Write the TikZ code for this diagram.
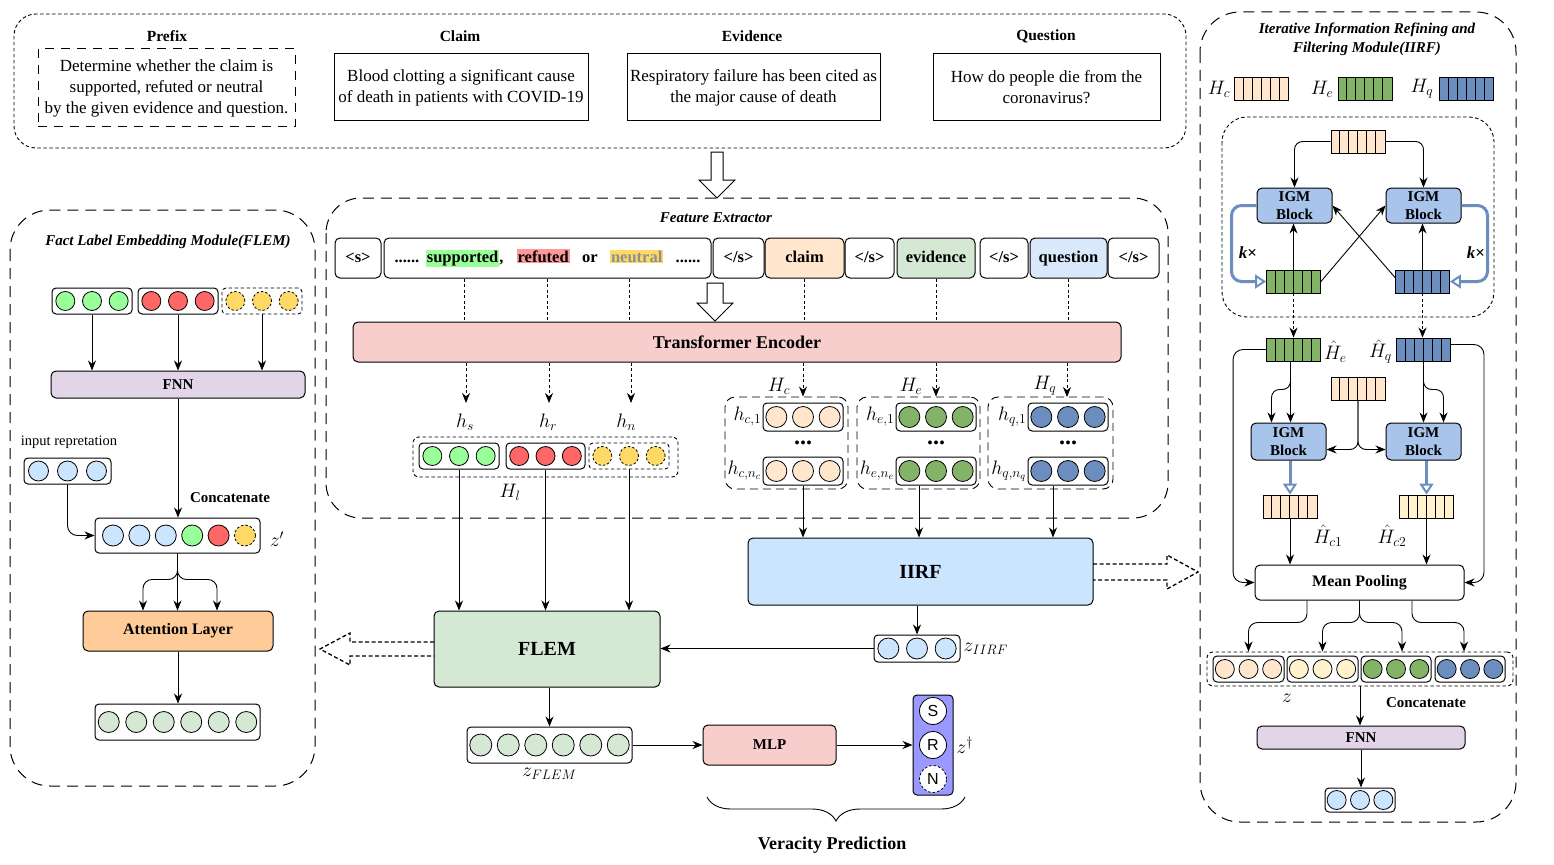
\RequirePackage{fix-cm}
\documentclass[tikz,border=0pt]{standalone}
\usepackage{fontspec}
\setmainfont{Liberation Serif}
\newfontfamily\sfa{Liberation Sans}
\usetikzlibrary{arrows.meta,positioning,calc,decorations.pathreplacing}
\setlength{\fboxsep}{1pt}
\definecolor{peach}{HTML}{FFE6CC}
\definecolor{lgreen}{HTML}{D5E8D4}
\definecolor{lblue}{HTML}{DAE8FC}
\definecolor{cblue}{HTML}{CCE5FF}
\definecolor{pinkc}{HTML}{F8CECC}
\definecolor{purp}{HTML}{E1D5E7}
\definecolor{orng}{HTML}{FFCC99}
\definecolor{cgreen}{HTML}{99FF99}
\definecolor{cred}{HTML}{FF6666}
\definecolor{cyel}{HTML}{FFD966}
\definecolor{hlr}{HTML}{FF9999}
\definecolor{dgreen}{HTML}{82B366}
\definecolor{dblue}{HTML}{6C8EBF}
\definecolor{lyel}{HTML}{FFF2CC}
\definecolor{igmc}{HTML}{A9C4EB}
\definecolor{zdcol}{HTML}{9999FF}
\definecolor{loopc}{HTML}{6C8EBF}
\definecolor{neutgray}{HTML}{8F8F8F}
\newcommand{\mybox}[7][]{\node[#1, minimum width={(#5-#3)*1pt}, minimum height={(#6-#4)*1pt}] (#2) at ({(#3+#5)/2},{(#4+#6)/2}) {#7};}
\newcommand{\crow}[8][]{%
 \mybox[cbox,#1]{#2}{#3}{#4}{#5}{#6}{}%
 \foreach \cI in {1,...,#7}{\node[circ,#8] (#2-\cI) at ({#3+(\cI-0.5)*(#5-#3)/#7},{(#4+#6)/2}) {};}%
}
\newcommand{\mkbar}[4]{%
 \node[draw, fill=#4, line width=0.9pt, minimum width=54pt, minimum height=23pt, inner sep=0pt] (#1) at (#2,#3) {};%
 \foreach \cK in {1,...,5}{\draw[line width=0.9pt] ($(#1.south west)+(\cK*9,0)$) -- ($(#1.north west)+(\cK*9,0)$);}%
}
\tikzset{
 every node/.style={inner sep=0pt},
 body/.style={font=\fontsize{17}{21}\selectfont, align=center},
 hd/.style={font=\fontsize{15.5}{18}\selectfont\bfseries},
 ttl/.style={font=\fontsize{15}{19}\selectfont\bfseries\itshape, align=center},
 ml/.style={font=\fontsize{19.5}{21}\selectfont},
 lb/.style={font=\fontsize{15}{18}\selectfont\bfseries, align=center},
 box/.style={draw, line width=1pt, rounded corners=5pt, align=center},
 sq/.style={draw, line width=1pt, align=center},
 tok/.style={draw, line width=1pt, rounded corners=5pt, font=\fontsize{16.5}{20}\selectfont\bfseries, text height=12pt, text depth=4pt},
 cbox/.style={draw, line width=1pt, rounded corners=4pt},
 circ/.style={draw, circle, line width=0.8pt, minimum size=19pt},
 ydash/.style={dash pattern=on 2.5pt off 2pt},
 igm/.style={draw, line width=1pt, rounded corners=5pt, fill=igmc, align=center, font=\fontsize{15}{18}\selectfont\bfseries},
 arr/.style={line width=0.9pt, -{Stealth[length=10pt,width=8pt]}},
 darr/.style={arr, dash pattern=on 3pt off 2.5pt},
 dl/.style={line width=0.8pt, dash pattern=on 3pt off 2.5pt},
 thk/.style={draw=loopc, line width=3pt, -{Triangle[open, length=11pt, width=14pt, line width=2pt]}},
 hol/.style={line width=1pt, fill=white},
 hold/.style={line width=1.3pt, dash pattern=on 4pt off 2.5pt},
 ldash/.style={line width=1pt, dash pattern=on 11pt off 7pt},
 sdash/.style={line width=0.9pt, dash pattern=on 3.5pt off 2.5pt},
 grp/.style={draw, line width=0.9pt, rounded corners=10pt, dash pattern=on 8pt off 5pt},
 kx/.style={font=\fontsize{17}{18}\selectfont\bfseries\itshape},
}
\begin{document}
\begin{tikzpicture}[x=1pt,y=-1pt]
\useasboundingbox (0,0) rectangle (1554,864);
\fill[white] (0,0) rectangle (1554,864);
% ---------------- top input box
\draw[sdash, rounded corners=22pt] (14,14) rectangle (1186,148);
\node[hd] (hpre) at (167,36) {Prefix};
\node[hd] (hcla) at (460,36) {Claim};
\node[hd] (hevi) at (752,36) {Evidence};
\node[hd] (hque) at (1046,36) {Question};
\mybox[sq, body, dash pattern=on 9pt off 7pt]{pre}{38}{49}{295}{127}{Determine whether the claim is\\supported, refuted or neutral\\by the given evidence and question.}
\mybox[sq, body]{cla}{334}{54}{588}{121}{Blood clotting a significant cause\\of death in patients with COVID-19}
\mybox[sq, body]{evi}{627}{54}{880}{121}{Respiratory failure has been cited as\\the major cause of death}
\mybox[sq, body]{que}{933}{54}{1160}{121}{How do people die from the\\coronavirus?}
\draw[hol] (711,152) -- (723,152) -- (723,180) -- (735,180) -- (717,198) -- (699,180) -- (711,180) -- cycle;
% ---------------- feature extractor
\draw[ldash, rounded corners=35pt] (326,198) rectangle (1168,518);
\node[ttl] (fet) at (716,218) {Feature Extractor};
\mybox[tok]{t1}{335}{238}{381}{278}{<s>}
\mybox[tok]{t2}{384}{238}{711}{278}{......\hspace{0.4em}\colorbox{cgreen}{supported},\hspace{0.8em}\colorbox{hlr}{refuted}\hspace{0.5em} or\hspace{0.5em} \colorbox{cyel}{\textcolor{neutgray}{neutral}}\hspace{0.5em} ......}
\mybox[tok]{t3}{713}{238}{764}{278}{</s>}
\mybox[tok, fill=peach]{t4}{765}{238}{844}{278}{claim}
\mybox[tok]{t5}{845}{238}{894}{278}{</s>}
\mybox[tok, fill=lgreen]{t6}{897}{238}{975}{278}{evidence}
\mybox[tok]{t7}{980}{238}{1028}{278}{</s>}
\mybox[tok, fill=lblue]{t8}{1030}{238}{1107}{278}{question}
\mybox[tok]{t9}{1108}{238}{1159}{278}{</s>}
\mybox[box, fill=pinkc, font=\fontsize{18}{20}\selectfont\bfseries]{tf}{353}{322}{1121}{362}{Transformer Encoder}
\path ([xshift=-83.5pt]t2.south) coordinate (ps1);
\path ([xshift=-0.5pt]t2.south) coordinate (ps2);
\path ([xshift=81.5pt]t2.south) coordinate (ps3);
\foreach \p in {ps1,ps2,ps3,t4.south,t6.south,t8.south}{\draw[dl] (\p) -- (\p |- tf.north);}
\draw[hol] (707,283) -- (723,283) -- (723,303) -- (733,303) -- (715,321) -- (697,303) -- (707,303) -- cycle;
% label vectors
\node[ml] (hs) at (465,422) {$h_s$};
\node[ml] (hr) at (548,422) {$h_r$};
\node[ml] (hn) at (626,422) {$h_n$};
\coordinate (ehs) at (466,403);
\coordinate (ehr) at (549,403);
\coordinate (ehn) at (631,403);
\foreach \p in {ehs,ehr,ehn}{\draw[darr] (tf.south -| \p) -- (\p);}
\mybox[cbox, sdash, rounded corners=6pt]{hl}{413}{437}{678}{477}{}
\crow{hsrow}{419}{443}{499}{469}{3}{fill=cgreen}
\crow{hrrow}{506}{443}{585}{469}{3}{fill=cred}
\crow[sdash]{hnrow}{589}{443}{669}{469}{3}{fill=cyel, ydash}
\node[ml] (hlab) at (510,492) {$H_l$};
% Hc He Hq groups
\mybox[grp]{hcg}{725}{397}{848}{489}{}
\mybox[grp]{heg}{857}{397}{980}{489}{}
\mybox[grp]{hqg}{988}{397}{1113}{489}{}
\crow{hc1}{763}{403}{843}{431}{3}{fill=peach, minimum size=21pt}
\crow{hcn}{763}{457}{843}{485}{3}{fill=peach, minimum size=21pt}
\crow{he1}{896}{403}{976}{431}{3}{fill=dgreen, minimum size=21pt}
\crow{hen}{896}{457}{976}{485}{3}{fill=dgreen, minimum size=21pt}
\crow{hq1}{1028}{403}{1108}{431}{3}{fill=dblue, minimum size=21pt}
\crow{hqn}{1028}{457}{1108}{485}{3}{fill=dblue, minimum size=21pt}
\node[ml, left=1pt of hc1] (lhc1) {$h_{c,1}$};
\node[ml, left=1pt of hcn] (lhcn) {$h_{c,n_c}$};
\node[ml, left=1pt of he1] (lhe1) {$h_{e,1}$};
\node[ml, left=1pt of hen] (lhen) {$h_{e,n_e}$};
\node[ml, left=1pt of hq1] (lhq1) {$h_{q,1}$};
\node[ml, left=1pt of hqn] (lhqn) {$h_{q,n_q}$};
\node[font=\fontsize{24}{24}\selectfont\bfseries] (dc) at (803,443) {...};
\node[font=\fontsize{24}{24}\selectfont\bfseries] (de) at (936,443) {...};
\node[font=\fontsize{24}{24}\selectfont\bfseries] (dq) at (1068,443) {...};
\node[ml] (lHc) at (779,386) {$H_c$};
\node[ml] (lHe) at (911,386) {$H_e$};
\node[ml] (lHq) at (1045,386) {$H_q$};
\draw[darr] (tf.south -| hc1.north) -- (hcg.north -| hc1.north);
\draw[darr] (tf.south -| he1.north) -- (heg.north -| he1.north);
\coordinate (eq1) at (1067,397);
\draw[darr] (tf.south -| eq1) -- (eq1);
% IIRF / FLEM main
\mybox[box, fill=cblue, font=\fontsize{20}{22}\selectfont\bfseries]{iirf}{748}{538}{1093}{605}{IIRF}
\path (hcn.south) coordinate (dc1);
\path ([xshift=-17pt]hen.south) coordinate (dc2);
\path ([xshift=-15pt]hqn.south) coordinate (dc3);
\foreach \p in {dc1,dc2,dc3}{\draw[arr] (\p) -- (\p |- iirf.north);}
\draw[hold] (1093,564) -- (1167,564) -- (1167,555) -- (1198,572) -- (1167,589) -- (1167,580) -- (1093,580);
\crow{ziirf}{874}{635}{960}{662}{3}{fill=cblue, minimum size=21pt}
\node[ml, right=3pt of ziirf] (lziirf) {$z_{IIRF}$};
\draw[arr] (ziirf.north |- iirf.south) -- (ziirf.north);
\mybox[box, fill=lgreen, font=\fontsize{20}{22}\selectfont\bfseries]{flem}{434}{611}{660}{687}{FLEM}
\draw[arr] (ziirf.west) -- (ziirf.west -| flem.east);
\foreach \p in {hsrow,hrrow,hnrow}{\draw[arr] (\p.south) -- (\p.south |- flem.north);}
\draw[hold] (434,642) -- (350,642) -- (350,633) -- (320,649) -- (350,665) -- (350,656) -- (434,656);
\crow{zflem}{467}{727}{632}{763}{6}{fill=lgreen, minimum size=22pt}
\node[ml, below=4pt of zflem] (lzflem) {$z_{FLEM}$};
\draw[arr] (zflem.north |- flem.south) -- (zflem.north);
\mybox[box, fill=pinkc, font=\fontsize{15}{18}\selectfont\bfseries]{mlp}{703}{725}{836}{765}{MLP}
\draw[arr] (zflem.east) -- (mlp.west);
\mybox[cbox, fill=zdcol]{zd}{913}{695}{953}{795}{}
\node[circ, fill=white, minimum size=27pt, font=\sfa\fontsize{16}{16}\selectfont] (zs) at (933,711) {S};
\node[circ, fill=white, minimum size=27pt, font=\sfa\fontsize{16}{16}\selectfont] (zr) at (933,745) {R};
\node[circ, fill=white, minimum size=27pt, ydash, font=\sfa\fontsize{16}{16}\selectfont] (zn) at (933,779) {N};
\node[ml, right=3pt of zd] (lzd) {$z^{\dagger}$};
\draw[arr] (mlp.east) -- (mlp.east -| zd.west);
\draw[line width=0.9pt, decorate, decoration={brace, mirror, amplitude=24pt}] (707,797) -- (965,797);
\node[font=\fontsize{18}{20}\selectfont\bfseries] (vp) at (832,845) {Veracity Prediction};
% ---------------- FLEM module (left)
\draw[ldash, rounded corners=40pt] (10,210) rectangle (315,786);
\node[ttl] (flt) at (168,242) {Fact Label Embedding Module(FLEM)};
\crow{fg}{52}{288}{132}{314}{3}{fill=cgreen}
\crow{fr}{138}{288}{218}{314}{3}{fill=cred}
\crow[sdash]{fy}{222}{288}{302}{314}{3}{fill=cyel, ydash}
\mybox[box, fill=purp, font=\fontsize{15}{18}\selectfont\bfseries]{fnn}{51}{371}{305}{398}{FNN}
\foreach \p in {fg,fr,fy}{\draw[arr] (\p.south) -- (\p.south |- fnn.north);}
\node[font=\fontsize{14.5}{17}\selectfont] (inrl) at (69,442) {input repretation};
\crow{inr}{24}{458}{111}{484}{3}{fill=cblue, minimum size=20pt}
\mybox[cbox]{zc}{95}{518}{260}{553}{}
\foreach \cI/\cc/\ss in {1/cblue/solid,2/cblue/solid,3/cblue/solid,4/cgreen/solid,5/cred/solid,6/cyel/ydash}{\node[circ, minimum size=21pt, fill=\cc, \ss] (zc-\cI) at ({113+(\cI-1)*26.4},535.5) {};}
\node[ml] (lzc) at (277,539) {$z'$};
\node[lb] (lcat) at (230,498) {Concatenate};
\draw[arr] (fnn.south) -- (fnn.south |- zc.north);
\draw[arr, rounded corners=10pt] (inr.south) |- (zc.west);
\mybox[box, fill=orng, font=\fontsize{16}{18}\selectfont\bfseries]{att}{83}{611}{273}{651}{Attention Layer}
\path ([xshift=-35pt]att.north) coordinate (a1);
\path ([xshift=39pt]att.north) coordinate (a3);
\draw[arr] (zc.south) -- (zc.south |- att.north);
\draw[arr, rounded corners=9pt] (zc.south) -- ++(0,26) -| (a1);
\draw[arr, rounded corners=9pt] (zc.south) -- ++(0,26) -| (a3);
\crow{fout}{95}{704}{260}{740}{6}{fill=lgreen, minimum size=21pt}
\draw[arr] (att.south) -- (att.south |- fout.north);
% ---------------- IIRF module (right)
\draw[ldash, rounded corners=40pt] (1200,12) rectangle (1516,822);
\node[ttl] (irt) at (1367,39) {Iterative Information Refining and\\Filtering Module(IIRF)};
\node[ml] (lgc) at (1219,89) {$H_c$};
\mkbar{lbc}{1261.5}{88.5}{peach}
\node[ml] (lge) at (1322,89) {$H_e$};
\mkbar{lbe}{1365}{88.5}{dgreen}
\node[ml] (lgq) at (1422,89) {$H_q$};
\mkbar{lbq}{1466.5}{88.5}{dblue}
\draw[sdash, rounded corners=25pt] (1222,117) rectangle (1494,317);
\mkbar{tbar}{1358}{141.5}{peach}
\mybox[igm]{igmL1}{1257}{188}{1332}{223}{IGM\\Block}
\mybox[igm]{igmR1}{1386}{188}{1461}{223}{IGM\\Block}
\mkbar{gbar}{1293.5}{281.5}{dgreen}
\mkbar{bbar}{1422.5}{281.5}{dblue}
\draw[arr, rounded corners=8pt] (tbar.west) -| (igmL1.north);
\draw[arr, rounded corners=8pt] (tbar.east) -| (igmR1.north);
\draw[arr] (gbar.north) -- (gbar.north |- igmL1.south);
\draw[arr] (bbar.north) -- (bbar.north |- igmR1.south);
\draw[arr] (gbar.east) -- (igmR1.west);
\draw[arr] ([yshift=4pt]bbar.west) -- (igmL1.east);
\draw[thk, rounded corners=10pt] (igmL1.west) -- ++(-25,0) |- (gbar.west);
\draw[thk, rounded corners=10pt] (igmR1.east) -- ++(26,0) |- (bbar.east);
\node[kx] (kx1) at (1248,253) {k\textup{×}};
\node[kx] (kx2) at (1476,253) {k\textup{×}};
\mkbar{he}{1293.5}{349.5}{dgreen}
\mkbar{hq}{1423.5}{349.5}{dblue}
\draw[darr] (gbar.south) -- (gbar.south |- he.north);
\draw[darr] (bbar.south) -- (bbar.south |- hq.north);
\node[ml, right=3pt of he, yshift=-2pt] (lhe) {$\hat{H}_e$};
\node[ml, left=4pt of hq, yshift=-2pt] (lhq) {$\hat{H}_q$};
\mkbar{mbar}{1358}{388.5}{peach}
\mybox[igm]{igmL2}{1251}{423}{1326}{460}{IGM\\Block}
\mybox[igm]{igmR2}{1386}{423}{1461}{460}{IGM\\Block}
\path (he.south) ++(-22,0) coordinate (heb);
\path (hq.south) ++(20,0) coordinate (hqb);
\draw[arr] ([xshift=-3pt]he.south) -- ([xshift=-3pt]he.south |- igmL2.north);
\draw[arr, rounded corners=8pt] ([xshift=-3pt]he.south) -- ++(0,28) -| (heb |- igmL2.north);
\draw[arr] (hq.south) -- (hq.south |- igmR2.north);
\draw[arr, rounded corners=8pt] (hq.south) -- ++(0,28) -| (hqb |- igmR2.north);
\draw[arr, rounded corners=8pt] (mbar.south) |- ([yshift=-8pt]igmL2.east);
\draw[arr, rounded corners=8pt] (mbar.south) |- ([yshift=-8pt]igmR2.west);
\mkbar{c1bar}{1290}{506.5}{peach}
\mkbar{c2bar}{1426.5}{506.5}{lyel}
\draw[thk] (c1bar.north |- igmL2.south) -- (c1bar.north);
\draw[thk] (c2bar.north |- igmR2.south) -- (c2bar.north);
\node[ml] (lc1) at (1328,536) {$\hat{H}_{c1}$};
\node[ml] (lc2) at (1392,536) {$\hat{H}_{c2}$};
\mybox[box, font=\fontsize{16}{18}\selectfont\bfseries]{mp}{1255}{565}{1464}{600}{Mean Pooling}
\draw[arr] (c1bar.south) -- (c1bar.south |- mp.north);
\draw[arr] (c2bar.south) -- (c2bar.south |- mp.north);
\draw[arr, rounded corners=10pt] (he.west) -- ++(-33,0) |- (mp.west);
\draw[arr, rounded corners=10pt] ([yshift=5pt]hq.east) -- ++(33,0) |- (mp.east);
\mybox[cbox, sdash, rounded corners=6pt]{zb}{1207}{652}{1513}{686}{}
\crow{z1}{1213}{656}{1284}{682}{3}{fill=peach}
\crow{z2}{1287}{656}{1358}{682}{3}{fill=lyel}
\crow{z3}{1361}{656}{1431}{682}{3}{fill=dgreen}
\crow{z4}{1435}{656}{1505}{682}{3}{fill=dblue}
\path ([xshift=-52.5pt]mp.south) coordinate (mo1);
\path ([xshift=52.5pt]mp.south) coordinate (mo3);
\path ([xshift=6pt]z3.north) coordinate (z3a);
\path ([xshift=-6pt]z4.north) coordinate (z4a);
\draw[arr, rounded corners=9pt] (mo1) -- ++(0,22) -| (z1.north |- zb.north);
\draw[arr, rounded corners=9pt] (mp.south) -- ++(0,22) -| (z2.north |- zb.north);
\draw[arr, rounded corners=9pt] (mp.south) -- ++(0,22) -| (z3a |- zb.north);
\draw[arr, rounded corners=9pt] (mo3) -- ++(0,22) -| (z4a |- zb.north);
\node[ml] (lz) at (1287,698) {$z$};
\node[lb] (lcat2) at (1426,703) {Concatenate};
\mybox[box, fill=purp, font=\fontsize{15}{18}\selectfont\bfseries]{fnn2}{1257}{726}{1465}{749}{FNN}
\draw[arr] (zb.south) -- (zb.south |- fnn2.north);
\crow{out2}{1325}{788}{1395}{812}{3}{fill=cblue}
\draw[arr] (fnn2.south) -- (fnn2.south |- out2.north);
\end{tikzpicture}
\end{document}
